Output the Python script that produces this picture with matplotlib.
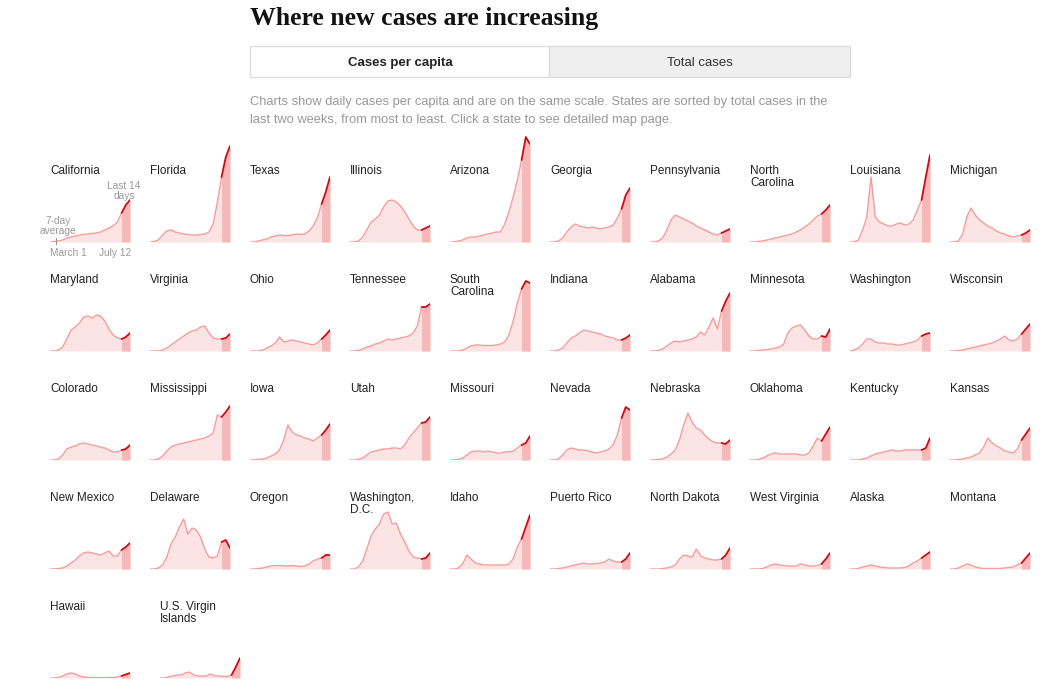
import numpy as np
import matplotlib
matplotlib.use("Agg")
import matplotlib.pyplot as plt
from matplotlib.patches import Rectangle

# weekly 7-day averages, Mar 1 .. Jul 12 (20 points), same scale for every state
weeks = np.arange(20) * 7

california = [0, 0.5, 1, 2, 4, 5, 6, 7, 7.5, 8, 8.5, 9, 10, 12, 14, 16, 20, 29, 37, 42]
florida = [0, 0.5, 2, 7, 11, 12, 10, 9, 8, 7.5, 7, 7, 7.5, 8, 10, 18, 40, 65, 85, 96]
texas = [0, 0, 1, 2, 3, 5, 6, 7, 6.5, 6.5, 7, 8, 7.5, 8, 11, 16, 24, 38, 50, 65]
illinois = [0, 0, 1, 5, 12, 20, 23, 27, 35, 41, 42, 40, 36, 30, 23, 16, 12, 12, 14, 16]
arizona = [0, 0, 1, 2, 4, 5, 5, 6, 7, 8, 9, 10, 10, 18, 30, 45, 62, 82, 105, 98]
georgia = [0, 0, 1, 4, 10, 15, 18, 16, 15, 14, 15, 14, 13, 14, 15, 17, 24, 33, 47, 54]
pennsylvania = [0, 0, 1, 4, 12, 22, 27, 25, 23, 21, 19, 16, 14, 12, 10, 8, 7, 9, 11, 13]
north_carolina = [0, 0, 0.5, 1, 2, 3, 4, 5, 6, 7, 8, 10, 12, 15, 18, 22, 26, 28, 32, 37]
louisiana = [0, 0, 2, 12, 25, 65, 25, 20, 18, 16, 16, 18, 19, 17, 18, 22, 32, 42, 65, 87]
michigan = [0, 0, 1, 8, 25, 34, 27, 22, 19, 16, 14, 11, 9, 8, 6, 5, 6, 7, 9, 12]

maryland = [0, 0, 1, 4, 12, 21, 24, 28, 34, 35, 33, 36, 35, 30, 22, 16, 13, 12, 14, 18]
virginia = [0, 0, 0, 1, 3, 6, 9, 12, 15, 18, 20, 21, 24, 25, 18, 13, 12, 12, 13, 17]
ohio = [0, 0, 0, 1, 3, 5, 8, 14, 9, 10, 11, 10, 9, 8, 7, 6, 8, 12, 16, 21]
tennessee = [0, 0, 0.5, 2, 4, 5, 7, 8, 10, 12, 11, 12, 13, 14, 15, 18, 25, 44, 44, 47]
south_carolina = [0, 0, 0, 1, 3, 5, 6, 6, 5.5, 5.5, 5.5, 6, 7, 9, 16, 30, 48, 62, 70, 68]
indiana = [0, 0, 1, 3, 8, 13, 15, 18, 21, 20, 19, 18, 17, 15, 14, 13, 11, 11, 13, 16]
alabama = [0, 0, 0.5, 2, 5, 8, 10, 9, 10, 11, 12, 14, 19, 16, 24, 33, 22, 40, 50, 58]
minnesota = [0, 0, 0.5, 1, 1.5, 2, 3, 4, 7, 18, 23, 25, 26, 21, 15, 12, 12, 15, 14, 22]
washington = [0, 1, 3, 7, 12, 12, 9, 8, 8, 7, 7, 6, 6, 7, 8, 9, 11, 15, 17, 18]
wisconsin = [0, 0, 0.5, 1, 2, 3, 4, 5, 6, 7, 8, 10, 12, 15, 11, 10, 12, 17, 22, 27]

colorado = [0, 0, 1, 5, 11, 13, 14, 16, 17, 16, 15, 14, 13, 12, 10, 8, 8, 10, 11, 15]
mississippi = [0, 0, 1, 4, 9, 13, 15, 16, 17, 18, 19, 20, 21, 22, 24, 27, 45, 43, 48, 54]
iowa = [0, 0, 0.5, 1, 2, 4, 6, 10, 20, 35, 28, 25, 24, 22, 21, 19, 22, 25, 30, 36]
utah = [0, 0, 0.5, 2, 5, 8, 9, 10, 11, 11, 12, 12, 11, 15, 22, 27, 32, 37, 38, 43]
missouri = [0, 0, 0.5, 2, 5, 8, 9, 9, 8, 9, 8, 7, 7, 8, 8, 9, 12, 15, 17, 24]
nevada = [0, 0, 1, 5, 10, 12, 11, 10, 10, 9, 8, 7, 8, 9, 11, 15, 25, 42, 53, 50]
nebraska = [0, 0, 0.5, 1, 3, 6, 10, 20, 35, 47, 38, 32, 30, 25, 21, 18, 17, 17, 16, 20]
oklahoma = [0, 0, 0.5, 2, 4, 6, 7, 6, 6, 6, 6, 6, 5, 5, 7, 14, 22, 19, 26, 33]
kentucky = [0, 0, 0, 1, 2, 4, 6, 7, 8, 9, 10, 9, 9, 10, 10, 10, 10, 10, 12, 22]
kansas = [0, 0, 0.5, 1, 2, 3, 5, 7, 13, 22, 17, 14, 12, 9, 8, 7, 11, 20, 26, 32]

new_mexico = [0, 0, 0.5, 1, 3, 6, 9, 13, 16, 17, 16, 15, 14, 16, 18, 13, 13, 19, 22, 26]
delaware = [0, 0, 1, 4, 12, 25, 32, 42, 50, 35, 41, 39, 32, 20, 12, 11, 13, 27, 29, 21]
oregon = [0, 0, 0.5, 1, 2, 3, 3.5, 3.5, 3, 3, 3.5, 3, 2.5, 3, 5, 8, 10, 11, 14, 14]
dc = [0, 0, 2, 8, 20, 33, 40, 45, 55, 57, 45, 46, 35, 27, 18, 12, 11, 10, 11, 16]
idaho = [0, 0, 1, 5, 14, 10, 6, 5, 4, 4, 4, 4, 4, 4, 5, 10, 22, 30, 42, 54]
puerto_rico = [0, 0, 0.5, 1, 2, 3, 4, 5, 6, 5, 5, 5.5, 6, 7, 10, 8, 7, 7, 10, 16]
north_dakota = [0, 0, 0, 0.5, 1, 2, 4, 10, 14, 13, 12, 20, 13, 11, 10, 9, 9, 10, 14, 21]
west_virginia = [0, 0, 0, 0.5, 2, 4, 5, 4, 3.5, 3, 3, 3, 5, 4, 3, 3, 3.5, 5, 10, 16]
alaska = [0, 0, 0.5, 2, 3, 4, 3, 2, 1.5, 1, 1, 1, 1, 1.5, 3, 6, 8, 11, 14, 17]
montana = [0, 0, 1, 3, 5, 4, 2, 1, 0.5, 0.5, 0.5, 0.5, 0.5, 1, 1.5, 2, 4, 6, 11, 16]

hawaii = [0, 0, 0.5, 2, 4, 5, 4, 2, 1, 0.5, 0.5, 0.3, 0.3, 0.3, 0.5, 0.5, 1, 2, 3.5, 5]
virgin_islands = [0, 0, 1, 2, 3, 3, 5, 6, 3, 2, 2, 2, 4, 2, 2, 1.5, 1.5, 3, 11, 20]

rows = [
    [("California", california), ("Florida", florida), ("Texas", texas),
     ("Illinois", illinois), ("Arizona", arizona), ("Georgia", georgia),
     ("Pennsylvania", pennsylvania), ("North\nCarolina", north_carolina),
     ("Louisiana", louisiana), ("Michigan", michigan)],
    [("Maryland", maryland), ("Virginia", virginia), ("Ohio", ohio),
     ("Tennessee", tennessee), ("South\nCarolina", south_carolina),
     ("Indiana", indiana), ("Alabama", alabama), ("Minnesota", minnesota),
     ("Washington", washington), ("Wisconsin", wisconsin)],
    [("Colorado", colorado), ("Mississippi", mississippi), ("Iowa", iowa),
     ("Utah", utah), ("Missouri", missouri), ("Nevada", nevada),
     ("Nebraska", nebraska), ("Oklahoma", oklahoma), ("Kentucky", kentucky),
     ("Kansas", kansas)],
    [("New Mexico", new_mexico), ("Delaware", delaware), ("Oregon", oregon),
     ("Washington,\nD.C.", dc), ("Idaho", idaho), ("Puerto Rico", puerto_rico),
     ("North Dakota", north_dakota), ("West Virginia", west_virginia),
     ("Alaska", alaska), ("Montana", montana)],
    [("Hawaii", hawaii), ("U.S. Virgin\nIslands", virgin_islands)],
]

W, H = 1050, 692
LABEL_FONT = ["Liberation Sans Narrow", "Liberation Sans", "DejaVu Sans"]
BODY_FONT = ["Liberation Sans", "DejaVu Sans"]
LIGHT_FILL = "#fde4e4"
DARK_FILL = "#f5b8b8"
LINE = "#f59c9c"
RED = "#cf0a14"
GREY = "#999999"

fig = plt.figure(figsize=(W / 100, H / 100), dpi=100)


def fx(x):
    return x / W


def fy(y):
    return 1 - y / H


# header
fig.text(fx(250), fy(18), "Where new cases are increasing", fontsize=18.5,
         fontweight="bold", family=["Liberation Serif", "DejaVu Serif"],
         va="center", ha="left", color="#121212")

fig.patches.append(Rectangle((fx(549), fy(77)), fx(301), 31 / H, transform=fig.transFigure,
                             facecolor="#efefef", edgecolor="#dddddd", lw=1))
fig.patches.append(Rectangle((fx(250), fy(77)), fx(299), 31 / H, transform=fig.transFigure,
                             facecolor="white", edgecolor="#dddddd", lw=1))
fig.text(fx(400), fy(63), "Cases per capita", fontsize=9.5, fontweight="bold",
         family=LABEL_FONT, ha="center", va="center", color="#222222")
fig.text(fx(700), fy(63), "Total cases", fontsize=9.5,
         family=LABEL_FONT, ha="center", va="center", color="#333333")

fig.text(fx(250), fy(102), "Charts show daily cases per capita and are on the same scale. "
         "States are sorted by total cases in the", fontsize=9.3, family=BODY_FONT,
         ha="left", va="center", color=GREY)
fig.text(fx(250), fy(120), "last two weeks, from most to least. Click a state to see detailed map page.",
         fontsize=9.3, family=BODY_FONT, ha="left", va="center", color=GREY)

# small multiples
for r, row in enumerate(rows):
    base = 242 + 109 * r
    for c, (name, vals) in enumerate(row):
        left = 50 + 100 * c
        if r == 4 and c == 1:
            left = 160
        ax = fig.add_axes([fx(left), fy(base), fx(80), 110 / H])
        ax.set_xlim(0, 133)
        ax.set_ylim(0, 110)
        ax.axis("off")
        v = np.array(vals, dtype=float)
        ax.fill_between(weeks, v, color=LIGHT_FILL, lw=0)
        ax.fill_between(weeks[17:], v[17:], color=DARK_FILL, lw=0)
        ax.plot(weeks[:18], v[:18], color=LINE, lw=1.0, solid_capstyle="round")
        ax.plot(weeks[17:], v[17:], color=RED, lw=1.3, solid_capstyle="round")
        ax.axhline(0, color="#e6e6e6", lw=0.8, zorder=0)
        fig.text(fx(left), fy(base - 77), name, fontsize=8.5, family=LABEL_FONT,
                 ha="left", va="top", color="#222222", linespacing=0.95)

# California annotations
fig.text(fx(124), fy(191), "Last 14\ndays", fontsize=7.3, family=LABEL_FONT,
         ha="center", va="center", color=GREY, linespacing=0.95)
fig.text(fx(58), fy(226), "7-day\naverage", fontsize=7.3, family=LABEL_FONT,
         ha="center", va="center", color=GREY, linespacing=0.95)
fig.text(fx(68), fy(253), "March 1", fontsize=7.3, family=LABEL_FONT,
         ha="center", va="center", color=GREY)
fig.text(fx(115), fy(253), "July 12", fontsize=7.3, family=LABEL_FONT,
         ha="center", va="center", color=GREY)
fig.lines.append(plt.Line2D([fx(56), fx(56)], [fy(238), fy(244)], transform=fig.transFigure,
                            color=GREY, lw=0.8))

fig.savefig("out.png", dpi=100)
